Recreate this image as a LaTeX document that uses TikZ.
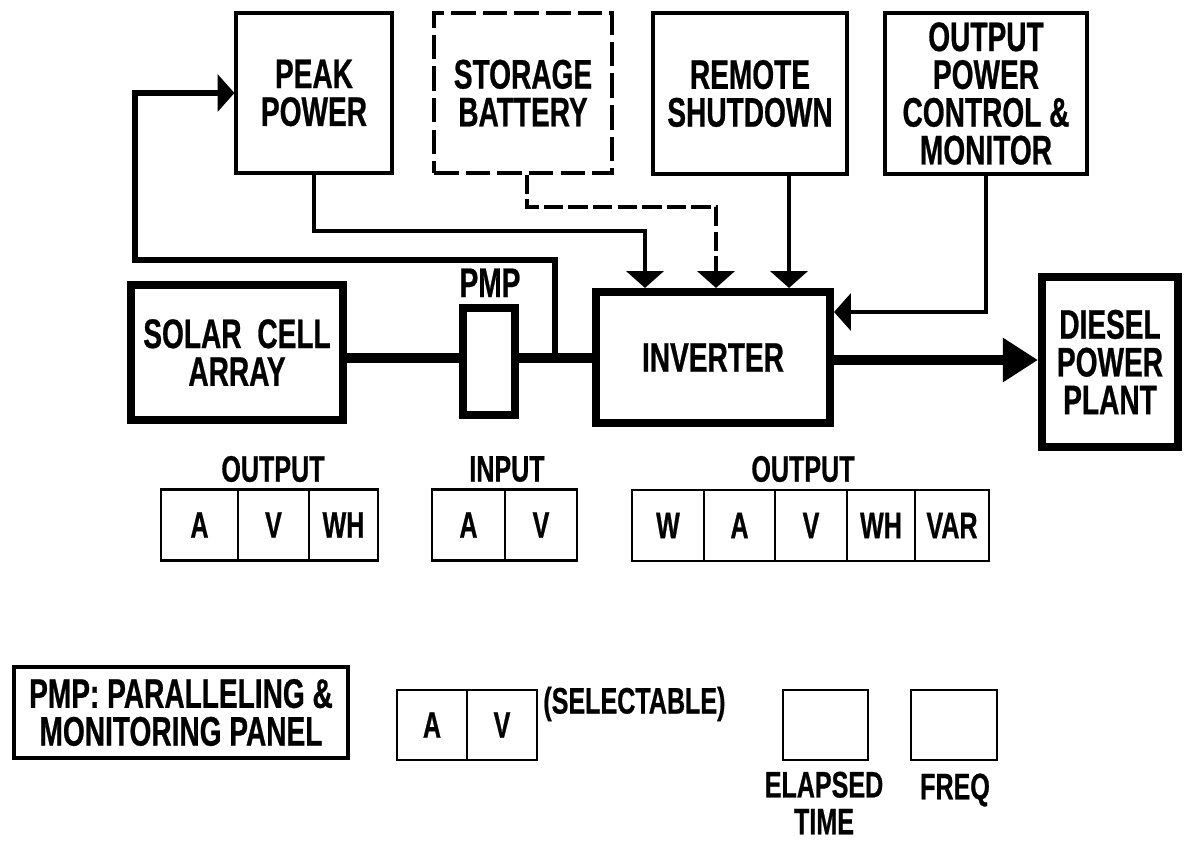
\documentclass[tikz,border=0pt]{standalone}
\usepackage{fontspec}
\setmainfont{Liberation Sans}[FakeStretch=0.68, BoldFeatures={FakeBold=0.6}]
\usetikzlibrary{arrows.meta}
\newdimen\pxu \pxu=0.02cm
\tikzset{
 lbl/.style={font=\bfseries\fontsize{23.5}{21.5}\selectfont, align=center, inner sep=0pt},
 mlbl/.style={font=\bfseries\fontsize{21}{21}\selectfont, align=center, inner sep=0pt},
 thinbox/.style={lbl, draw, line width=1.8pt},
 thickbox/.style={lbl, draw, line width=4.6pt},
 cell/.style={draw, line width=1.6pt, minimum height=71*\pxu, font=\bfseries\fontsize{21}{21}\selectfont, inner sep=0pt},
 conn/.style={line width=2.8pt},
 mainline/.style={line width=5.6pt},
 arr/.style={-{Triangle[width=21pt,length=9.6pt]}},
 bigarr/.style={-{Triangle[width=24pt,length=20pt]}},
}
\begin{document}
\begin{tikzpicture}[x=0.02cm,y=-0.02cm]
\useasboundingbox (0,0) rectangle (1186,843);
% top boxes
\node[thinbox, minimum width=156*\pxu, minimum height=160*\pxu] (peak) at (314,93) {PEAK\\POWER};
\node[thinbox, dash pattern=on 14pt off 4pt, line width=1.8pt, minimum width=178*\pxu, minimum height=160*\pxu] (stor) at (523,93) {STORAGE\\BATTERY};
\node[thinbox, minimum width=194*\pxu, minimum height=161*\pxu] (rem) at (750,93.5) {REMOTE\\SHUTDOWN};
\node[thinbox, minimum width=202*\pxu, minimum height=161*\pxu] (ctl) at (986,93.5) {OUTPUT\\POWER\\CONTROL \&\\MONITOR};
% middle row
\node[thickbox, minimum width=212*\pxu, minimum height=135*\pxu] (sol) at (237,352.5) {SOLAR\hspace{9pt}CELL\\ARRAY};
\node[thickbox, minimum width=52*\pxu, minimum height=107*\pxu] (pmp) at (489,361.5) {};
\node[lbl, anchor=base] (pmplbl) at (490,297) {PMP};
\node[thickbox, minimum width=234*\pxu, minimum height=131*\pxu] (inv) at (713,357.5) {INVERTER};
\node[thickbox, minimum width=136*\pxu, minimum height=170*\pxu] (dsl) at (1110,362) {DIESEL\\POWER\\PLANT};
% connectors
\coordinate (tap) at (555,358);
\draw[mainline] (sol.east |- 0,358) -- (pmp.west |- 0,358);
\draw[mainline] (pmp.east |- 0,358) -- (inv.west |- 0,358);
\draw[line width=3.3pt, arr] (tap) |- (135,260) |- (peak.west);
\draw[conn, arr] (peak.south) |- (645,231) -- (645,0 |- inv.north);
\draw[conn, dash pattern=on 11pt off 3pt, arr] (527,0 |- stor.south) |- (716,207) -- (716,0 |- inv.north);
\draw[conn, arr] (789,0 |- rem.south) -- (789,0 |- inv.north);
\draw[conn, arr] (ctl.south) |- (inv.east |- 0,312);
\draw[line width=6.2pt, bigarr] (inv.east |- 0,360) -- (dsl.west |- 0,360);
% meter labels
\node[mlbl] (lo1) at (273,469) {OUTPUT};
\node[mlbl] (li) at (507,469) {INPUT};
\node[mlbl] (lo2) at (803,469) {OUTPUT};
% solar output meters
\node[cell, minimum width=77*\pxu] (o1a) at (199.5,525) {A};
\node[cell, minimum width=71*\pxu] (o1v) at (273.5,525) {V};
\node[cell, minimum width=69*\pxu] (o1w) at (343.5,525) {WH};
% input meters
\node[cell, minimum width=73*\pxu] (ia) at (468.5,525) {A};
\node[cell, minimum width=72*\pxu] (iv) at (541,525) {V};
% inverter output meters
\node[cell, minimum width=72*\pxu] (o2w) at (668,525.5) {W};
\node[cell, minimum width=71*\pxu] (o2a) at (739.5,525.5) {A};
\node[cell, minimum width=72*\pxu] (o2v) at (811,525.5) {V};
\node[cell, minimum width=68*\pxu] (o2wh) at (881,525.5) {WH};
\node[cell, minimum width=74*\pxu] (o2var) at (952,525.5) {VAR};
% bottom row
\node[thinbox, line width=2pt, minimum width=334*\pxu, minimum height=91*\pxu] (legend) at (181,712.5) {PMP: PARALLELING \&\\MONITORING PANEL};
\node[cell, minimum width=70*\pxu, minimum height=70*\pxu] (sa) at (432,725) {A};
\node[cell, minimum width=70*\pxu, minimum height=70*\pxu] (sv) at (502,725) {V};
\node[mlbl, anchor=west] (sel) at (543,704) {(SELECTABLE)};
\node[cell, minimum width=85*\pxu, minimum height=70*\pxu] (et) at (825.5,725) {};
\node[cell, minimum width=86*\pxu, minimum height=70*\pxu] (fq) at (954,725) {};
\node[mlbl] (etl) at (824,803) {ELAPSED\\TIME};
\node[mlbl] (fql) at (955,790) {FREQ};
\end{tikzpicture}
\end{document}
